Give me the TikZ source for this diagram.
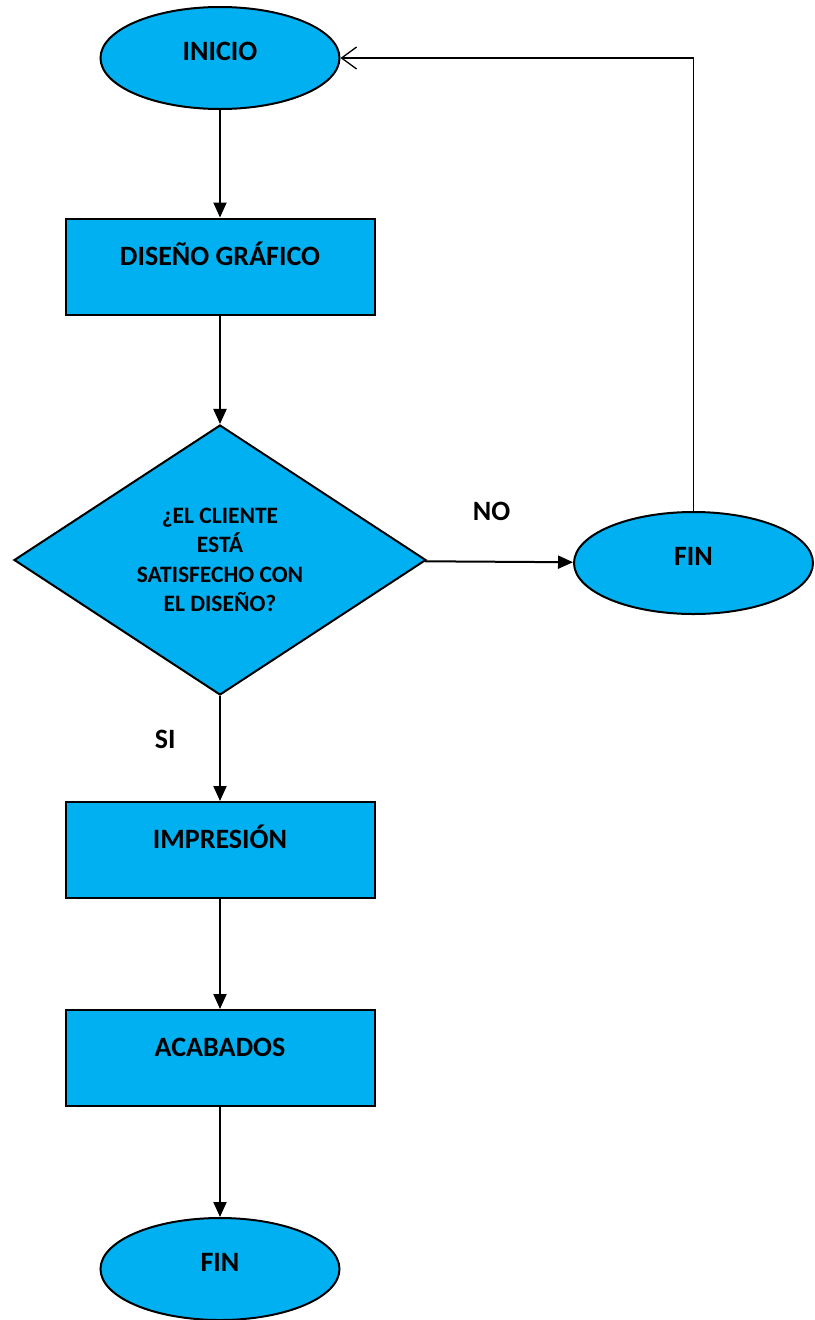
\documentclass[tikz,border=0pt]{standalone}
\usepackage{fontspec}
\setmainfont{Carlito}
\usetikzlibrary{shapes.geometric,arrows.meta,positioning}
\definecolor{azul}{HTML}{00B0F0}

\begin{document}
\begin{tikzpicture}[x=1pt,y=-1pt,on grid,line width=2pt,
   >={Triangle[length=15pt,width=13pt]},
   every node/.style={font=\bfseries\fontsize{28}{34}\selectfont},
   terminal/.style={ellipse,draw,fill=azul,minimum width=239pt,minimum height=102pt,
      inner sep=0pt,text height=18pt,text depth=14pt},
   process/.style={rectangle,draw,fill=azul,minimum width=309pt,minimum height=96pt,
      inner sep=0pt,text height=18pt,text depth=21pt},
   decision/.style={diamond,draw,fill=azul,minimum width=412pt,minimum height=270pt,
      aspect=1.5,inner sep=0pt,align=center,font=\bfseries\fontsize{23.5}{29.5}\selectfont}]
   \useasboundingbox (0,0) rectangle (814,1320);
   \node[terminal] (inicio) at (220,58) {INICIO};
   \node[process] (diseno) [below=208.5pt of inicio] {DISEÑO GRÁFICO};
   \node[decision] (pregunta) [below=293.5pt of diseno] {¿EL CLIENTE\\ESTÁ\\SATISFECHO CON\\EL DISEÑO?};
   \node[terminal] (fin_no) [right=473.5pt of pregunta,yshift=-3pt] {FIN};
   \node[process] (impresion) [below=290pt of pregunta] {IMPRESIÓN};
   \node[process] (acabados) [below=208pt of impresion] {ACABADOS};
   \node[terminal] (fin) [below=211pt of acabados] {FIN};
    \path[->]
    (inicio) edge (diseno)
    (diseno) edge (pregunta)
    (pregunta) edge node (no) [above=37pt,pos=0.45] {NO} (fin_no)
               edge node (si) [left=40pt,pos=0.41] {SI} (impresion)
    (impresion) edge (acabados)
    (acabados) edge (fin);
   % vuelta al inicio
   \draw[line width=1.3pt,-{Straight Barb[length=15pt,width=22pt]}] (fin_no.north) |- (inicio.east);
\end{tikzpicture}
\end{document}
